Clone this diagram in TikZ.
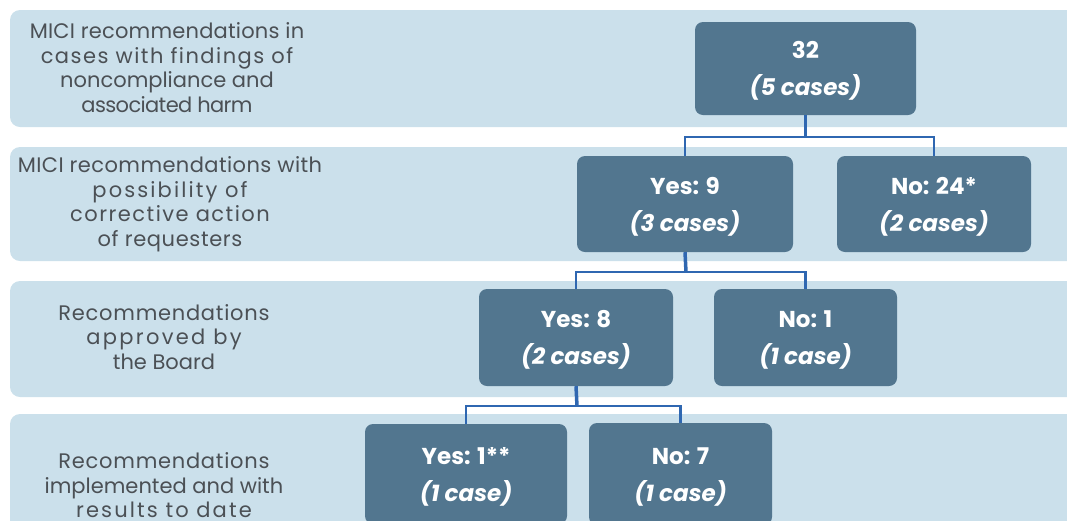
\documentclass[tikz,border=0pt]{standalone}
\usepackage{fontspec}
\setmainfont{Poppins}
\definecolor{bandc}{HTML}{CBE0EB}
\definecolor{boxc}{HTML}{52768F}
\definecolor{connc}{HTML}{2F67B1}
\definecolor{txtc}{HTML}{4B5055}
\newcommand\lsp[2]{{\addfontfeatures{LetterSpace=#1}#2}}
\newcommand\tpstrut{\rule{0pt}{22.5pt}}
\begin{document}
\begin{tikzpicture}[x=1pt,y=-1pt,
  band/.style={fill=bandc, rounded corners=10pt},
  lab/.style={text=txtc, align=center, inner sep=0pt, font=\fontsize{21}{24.5}\selectfont},
  box/.style={fill=boxc, rounded corners=8pt, text=white, align=center, inner sep=0pt,
    font=\fontsize{23}{37}\selectfont\bfseries},
  conn/.style={draw=connc, line width=2.2pt},
  stem/.style={draw=connc, line width=3.5pt}]
\useasboundingbox (0,0) rectangle (1067,520);
\clip (0,0) rectangle (1067,520);
% bands
\fill[band] (10,10) rectangle (1090,127);
\fill[band] (10,147) rectangle (1090,261);
\fill[band] (10,281) rectangle (1090,397);
\fill[band] (10,414) rectangle (1090,560);
% labels
\node[lab] (l1) at (167,67.5) {\lsp{1}{MICI recommendations in}\\\lsp{7}{cases with findings of}\\noncompliance and\\\lsp{-3}{associated harm}};
\node[lab] (l2) at (170,204) {\lsp{2}{MICI recommendations with}\\\lsp{10}{possibility of}\\\lsp{7}{corrective action}\\\lsp{3}{of requesters}};
\node[lab] (l3) at (164,337) {\lsp{3.5}{Recommendations}\\\lsp{11}{approved by}\\the Board};
\node[lab] (l4) at (164,485.5) {\lsp{3.5}{Recommendations}\\implemented and with\\\lsp{10}{results to date}};
% boxes
\node[box, minimum width=221pt, minimum height=93pt] (n32) at (805.5,68.5) {\tpstrut 32\\\textit{(5 cases)}};
\node[box, minimum width=216pt, minimum height=96pt] (y9) at (685,204) {\tpstrut Yes: 9\\\textit{(3 cases)}};
\node[box, minimum width=194pt, minimum height=96pt] (n24) at (934,204) {\tpstrut No: 24*\\\textit{(2 cases)}};
\node[box, minimum width=194pt, minimum height=97pt] (y8) at (576,337.5) {\tpstrut Yes: 8\\\textit{(2 cases)}};
\node[box, minimum width=183pt, minimum height=97pt] (n1) at (805.5,337.5) {\tpstrut No: 1\\\textit{(1 case)}};
\node[box, minimum width=202pt, minimum height=100pt] (y1) at (466,474) {\tpstrut Yes: 1**\\\textit{(1 case)}};
\node[box, minimum width=183pt, minimum height=102pt] (n7) at (680.5,474) {\tpstrut No: 7\\\textit{(1 case)}};
% connectors
\coordinate (j1) at (805.5,137);
\coordinate (j2) at (686,272);
\coordinate (j3) at (577,406);
\draw[stem] (n32.south) -- (j1);
\draw[conn] (y9.north) |- (j1) -| (n24.north);
\draw[stem] (y9.south) -- (j2);
\draw[conn] (y8.north) |- (j2) -| (n1.north);
\draw[stem] (y8.south) -- (j3);
\draw[conn] (y1.north) |- (j3) -| (n7.north);
\end{tikzpicture}
\end{document}
